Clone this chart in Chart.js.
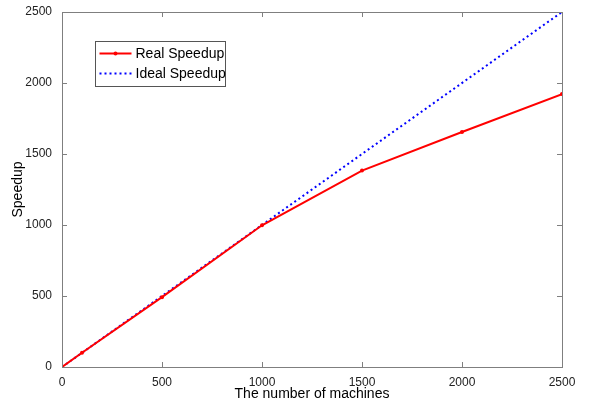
<!DOCTYPE html>
<html>
<head>
<meta charset="utf-8">
<script src="https://cdn.jsdelivr.net/npm/chart.js@4.4.1/dist/chart.umd.min.js"></script>
<style>
  html, body { margin: 0; padding: 0; background: #fff; }
  #wrap { width: 589px; height: 403px; }
</style>
</head>
<body>
<div id="wrap"><canvas id="speedupChart" width="589" height="403"></canvas></div>
<script>
// ---- data ----
const machines = [0, 100, 500, 1000, 1500, 2000, 2500];
const realSpeedup = [0, 100, 492, 998, 1383, 1655, 1922];
const idealMachines = [0, 2500];
const idealSpeedup = [0, 2500];
const tickValues = [0, 500, 1000, 1500, 2000, 2500];

const FONT = 'Arial, "Liberation Sans", sans-serif';
const AXIS_GREY = '#7f7f7f';

// 박스 테두리 + 안쪽 눈금 + 범례 (MATLAB 스타일)
const matlabFrame = {
  id: 'matlabFrame',
  afterDraw(chart) {
    const ctx = chart.ctx;
    const a = chart.chartArea;
    const xs = chart.scales.x, ys = chart.scales.y;
    ctx.save();
    ctx.strokeStyle = AXIS_GREY;
    ctx.lineWidth = 1;
    ctx.strokeRect(Math.round(a.left) + 0.5, Math.round(a.top) + 0.5,
      Math.round(a.right - a.left), Math.round(a.bottom - a.top));
    const len = 5;
    ctx.beginPath();
    tickValues.forEach(function (v) {
      const px = Math.round(xs.getPixelForValue(v)) + 0.5;
      ctx.moveTo(px, a.bottom); ctx.lineTo(px, a.bottom - len);
      ctx.moveTo(px, a.top); ctx.lineTo(px, a.top + len);
      const py = Math.round(ys.getPixelForValue(v)) + 0.5;
      ctx.moveTo(a.left, py); ctx.lineTo(a.left + len, py);
      ctx.moveTo(a.right, py); ctx.lineTo(a.right - len, py);
    });
    ctx.stroke();

    // legend box
    const bx = 95.5, by = 41.5, bw = 130, bh = 45;
    ctx.fillStyle = '#fff';
    ctx.fillRect(bx, by, bw, bh);
    ctx.strokeStyle = '#555';
    ctx.strokeRect(bx, by, bw, bh);
    ctx.font = '14px ' + FONT;
    ctx.textBaseline = 'middle';
    ctx.fillStyle = '#000';
    const ds = chart.data.datasets;
    const rows = [by + 12, by + 32];
    ds.forEach(function (d, i) {
      const y = rows[i];
      ctx.strokeStyle = d.borderColor;
      ctx.lineWidth = 2;
      ctx.setLineDash(d.borderDash || []);
      ctx.beginPath();
      ctx.moveTo(bx + 4, y); ctx.lineTo(bx + 36, y);
      ctx.stroke();
      ctx.setLineDash([]);
      if (d.pointRadius) {
        ctx.fillStyle = d.borderColor;
        ctx.beginPath();
        ctx.arc(bx + 20, y, 2, 0, Math.PI * 2);
        ctx.fill();
      }
      ctx.fillStyle = '#000';
      ctx.fillText(d.label, bx + 40, y + 1);
    });
    ctx.restore();
  }
};

function plainTick(value) { return String(value); }

new Chart(document.getElementById('speedupChart'), {
  type: 'line',
  data: {
    datasets: [{
      label: 'Real Speedup',
      data: machines.map(function (m, i) { return { x: m, y: realSpeedup[i] }; }),
      borderColor: '#ff0000',
      backgroundColor: '#ff0000',
      borderWidth: 2,
      pointRadius: 2,
      pointBorderWidth: 0,
      tension: 0
    }, {
      label: 'Ideal Speedup',
      data: idealMachines.map(function (m, i) { return { x: m, y: idealSpeedup[i] }; }),
      borderColor: '#0000ff',
      backgroundColor: '#0000ff',
      borderWidth: 2,
      borderDash: [2, 3],
      pointRadius: 0,
      tension: 0
    }]
  },
  options: {
    responsive: false,
    animation: false,
    layout: { padding: { top: 12, right: 27, left: 0, bottom: 0 } },
    plugins: { legend: { display: false }, tooltip: { enabled: false } },
    scales: {
      x: {
        type: 'linear', min: 0, max: 2500,
        afterBuildTicks: function (s) { s.ticks = tickValues.map(function (v) { return { value: v }; }); },
        afterFit: function (s) { s.height = 36; },
        grid: { display: false },
        border: { color: AXIS_GREY },
        ticks: { color: '#222', font: { family: FONT, size: 12 }, padding: 0, maxRotation: 0, callback: plainTick },
        title: { display: true, text: 'The number of machines', color: '#000',
          font: { family: FONT, size: 14 }, padding: { top: 0, bottom: 0 } }
      },
      y: {
        type: 'linear', min: 0, max: 2500,
        afterBuildTicks: function (s) { s.ticks = tickValues.map(function (v) { return { value: v }; }); },
        afterFit: function (s) { s.width = 62; },
        grid: { display: false },
        border: { color: AXIS_GREY },
        ticks: { color: '#222', font: { family: FONT, size: 12 }, padding: 2, callback: plainTick },
        title: { display: true, text: 'Speedup', color: '#000',
          font: { family: FONT, size: 14 }, padding: { top: 10, bottom: 4 } }
      }
    }
  },
  plugins: [matlabFrame]
});
</script>
</body>
</html>
